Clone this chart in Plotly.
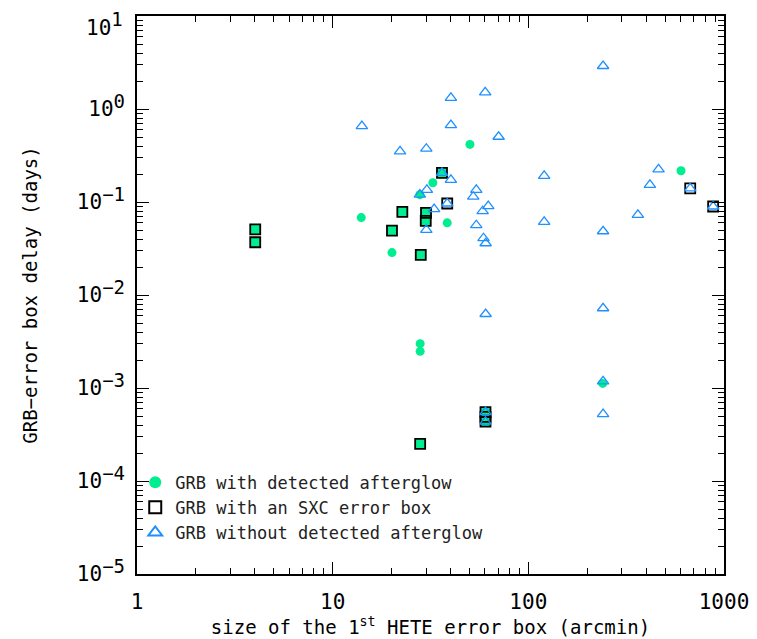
import plotly.graph_objects as go

# ---- data ----
# GRBs with detected afterglow (green dots)
ag_x = [14.0, 20.1, 32.5, 27.9, 38.5, 50.3, 28.0, 28.0, 240, 603]
ag_y = [0.068, 0.0286, 0.161, 0.120, 0.0597, 0.416, 0.0030, 0.00248, 0.00112, 0.217]

# GRBs with an SXC error box (squares); afterglow flag -> green filled
sxc_x = [4.02, 4.02, 22.7, 30.0, 29.9, 20.1, 28.2, 36.2, 28.0, 60.4, 60.4, 60.4, 38.5, 672, 880]
sxc_y = [0.0509, 0.0369, 0.0784, 0.0765, 0.0628, 0.0493, 0.0270, 0.206, 0.000251,
         0.00055, 0.00049, 0.000434, 0.0964, 0.140, 0.0895]
sxc_ag = [1, 1, 1, 1, 1, 1, 1, 1, 1, 1, 1, 1, 0, 0, 0]

# GRBs without detected afterglow (blue triangles)
na_x = [14.1, 22.1, 30.1, 40.2, 40.2, 60.2, 70.5, 40.2, 30.3, 27.9, 33.0, 54.2, 52.3,
        62.4, 58.4, 54.2, 30.1, 59.0, 60.5, 120.5, 120.5, 241, 463, 418, 363, 241,
        241, 241, 241, 60.5, 36.2, 38.5, 672, 880, 60.4, 60.4]
na_y = [0.655, 0.350, 0.374, 1.32, 0.671, 1.51, 0.503, 0.173, 0.135, 0.120, 0.0837, 0.135,
        0.114, 0.0902, 0.0796, 0.0563, 0.0502, 0.0408, 0.0360, 0.191, 0.0612, 2.90, 0.224,
        0.153, 0.0728, 0.0485, 0.0072, 0.00118, 0.000525, 0.00625, 0.206, 0.0964, 0.140,
        0.0895, 0.00055, 0.000434]

x_tickvals = [1, 10, 100, 1000]
x_ticktext = ["1", "10", "100", "1000"]
y_tickvals = [1e-5, 1e-4, 1e-3, 1e-2, 1e-1, 1e0, 1e1]
y_exponents = ["\u22125", "\u22124", "\u22123", "\u22122", "\u22121", "0", "1"]

legend_names = ["GRB with detected afterglow", "GRB with an SXC error box",
                "GRB without detected afterglow"]

GREEN = "#00EE90"
BLUE = "#1E90FF"
FONT = "DejaVu Sans Mono"

y_labels = ["10<sup><span style='font-size:19px'>%s</span></sup>" % e for e in y_exponents]
# top label is drawn as an annotation (nudged down so it stays inside the page)
y_ticktext = y_labels[:-1] + [""]

fig = go.Figure()

gx = [x for x, f in zip(sxc_x, sxc_ag) if f]
gy = [y for y, f in zip(sxc_y, sxc_ag) if f]

fig.add_trace(go.Scatter(x=ag_x, y=ag_y, mode="markers", name=legend_names[0],
                         marker=dict(symbol="circle", size=9, color=GREEN,
                                     line=dict(width=0))))
fig.add_trace(go.Scatter(x=gx, y=gy, mode="markers", showlegend=False,
                         marker=dict(symbol="square", size=10, color=GREEN,
                                     line=dict(width=0))))
fig.add_trace(go.Scatter(x=sxc_x, y=sxc_y, mode="markers", name=legend_names[1],
                         marker=dict(symbol="square-open", size=10, color="black",
                                     line=dict(width=1.8, color="black"))))
fig.add_trace(go.Scatter(x=na_x, y=na_y, mode="markers", name=legend_names[2],
                         marker=dict(symbol="triangle-up-open", size=10, color=BLUE,
                                     line=dict(width=1.3, color=BLUE))))

axis_common = dict(
    type="log", showgrid=False, zeroline=False, automargin=False,
    showline=True, linecolor="black", linewidth=1.5, mirror="allticks",
    ticks="inside", ticklen=12, tickwidth=1.2, tickcolor="black",
    minor=dict(ticks="inside", ticklen=6, tickwidth=1, tickcolor="black",
               dtick="D1", showgrid=False),
    tickfont=dict(family=FONT, size=21, color="black"),
    ticklabeloverflow="allow",
)

fig.update_xaxes(**axis_common, range=[0, 3], tickmode="array",
                 tickvals=x_tickvals, ticktext=x_ticktext, ticklabelstandoff=8,
                 title=dict(text="size of the 1<sup>st</sup> HETE error box (arcmin)",
                            font=dict(family=FONT, size=19, color="black"), standoff=2))
fig.update_yaxes(**axis_common, range=[-5, 1], tickmode="array",
                 tickvals=y_tickvals, ticktext=y_ticktext, ticklabelstandoff=6,
                 title=dict(text="GRB\u2212error box delay (days)",
                            font=dict(family=FONT, size=19, color="black"), standoff=34))

fig.add_annotation(text=y_labels[-1], xref="paper", yref="paper",
                   x=-0.021, y=0.985, xanchor="right", yanchor="middle",
                   showarrow=False, font=dict(family=FONT, size=21, color="black"))

fig.update_layout(
    width=757, height=639,
    margin=dict(l=129, r=41, t=8, b=73),
    paper_bgcolor="white", plot_bgcolor="white",
    font=dict(family=FONT, color="black"),
    legend=dict(x=-0.003, y=0.196, xanchor="left", yanchor="top",
                bgcolor="rgba(0,0,0,0)", font=dict(family=FONT, size=17, color="#222"),
                itemsizing="constant", tracegroupgap=0),
)

fig.write_html("out.html")
